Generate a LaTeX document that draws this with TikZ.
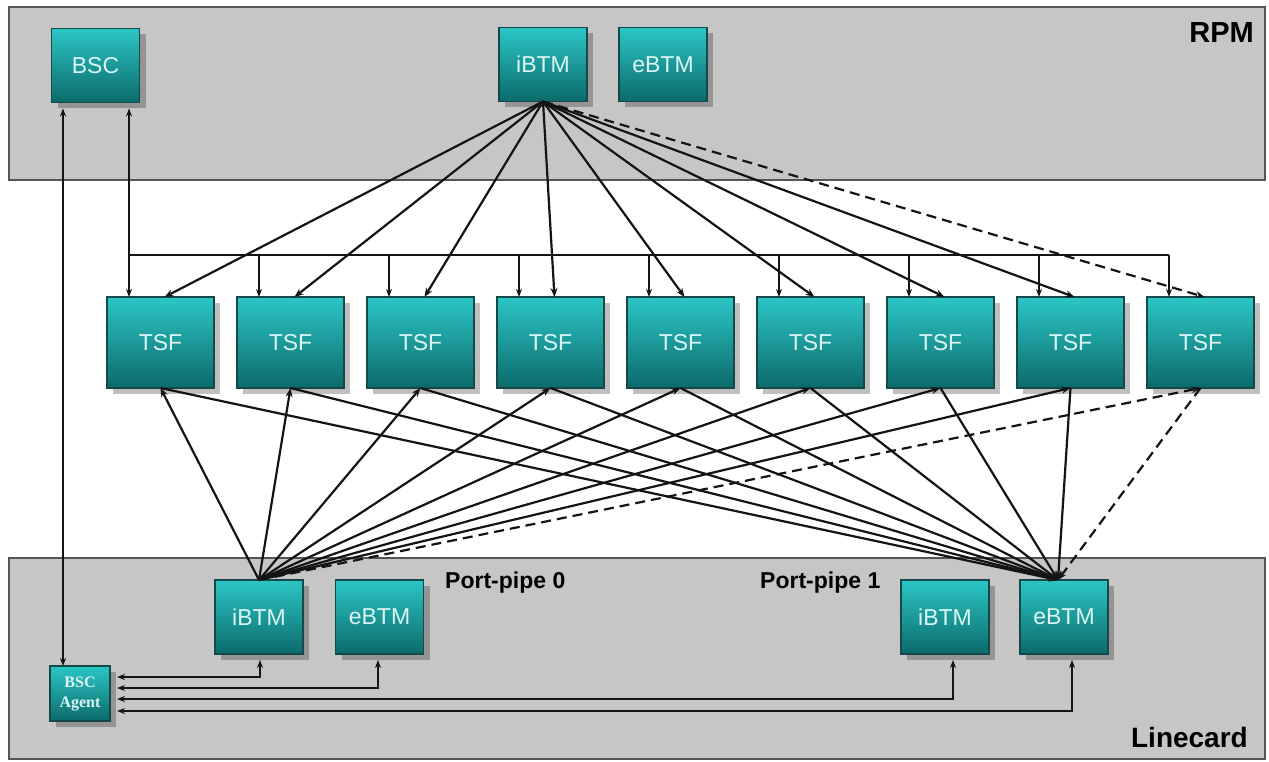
\documentclass[tikz,border=0pt]{standalone}
\usepackage{fontspec}
\setmainfont{Liberation Sans}
\newfontfamily\agentfont{Liberation Serif}
\usetikzlibrary{shadows,arrows.meta,calc}
\definecolor{tealtop}{HTML}{2CC6C6}
\definecolor{tealbot}{HTML}{0C6A6A}
\definecolor{tealedge}{HTML}{154848}
\definecolor{panelfill}{HTML}{C6C6C6}
\definecolor{paneledge}{HTML}{555555}
\definecolor{boxtext}{HTML}{DAF6F6}
\definecolor{lineclr}{HTML}{141414}
\begin{document}
\begin{tikzpicture}[x=1pt,y=-1pt,
  unit/.style={draw=tealedge, line width=1.8pt, top color=tealtop, bottom color=tealbot,
    text=boxtext, font=\fontsize{23}{26}\selectfont, inner sep=0pt, outer sep=0pt,
    minimum width=88pt, minimum height=74pt,
    drop shadow={shadow xshift=6pt, shadow yshift=-6pt, opacity=0.25, fill=black}},
  tsfbox/.style={unit, minimum width=107pt, minimum height=91pt},
  agentbox/.style={unit, minimum width=60pt, minimum height=55pt, align=center,
    font=\agentfont\bfseries\fontsize{16}{20}\selectfont},
  panel/.style={draw=paneledge, line width=1.8pt, fill=panelfill},
  fan/.style={draw=lineclr, line width=2.2pt, -{Stealth[length=9pt,width=7pt]}},
  dsh/.style={dash pattern=on 10pt off 6pt},
  thinboth/.style={draw=lineclr, line width=1.5pt, {Stealth[length=8pt,width=6pt]}-{Stealth[length=8pt,width=6pt]}},
  thinarr/.style={draw=lineclr, line width=1.5pt, -{Stealth[length=8pt,width=6pt]}},
  thinline/.style={draw=lineclr, line width=1.5pt},
  lbl/.style={font=\bfseries\fontsize{23}{26}\selectfont, text=black, inner sep=0pt}
]
\useasboundingbox[fill=white] (0,0) rectangle (1269,762);

% panels
\draw[panel] (9,7) rectangle (1265,180);
\draw[panel] (9,558) rectangle (1265,759);

% labels
\node[lbl, font=\bfseries\fontsize{29}{32}\selectfont, anchor=base east] (rpm) at (1254,43) {RPM};
\node[lbl, font=\bfseries\fontsize{28}{30}\selectfont, anchor=base east] (lc) at (1248,747) {Linecard};
\node[lbl, anchor=base west] (pp0) at (445,588) {Port-pipe 0};
\node[lbl, anchor=base west] (pp1) at (760,588) {Port-pipe 1};

% RPM units
\node[unit] (bsc) at (95.5,65.5) {BSC};
\node[unit] (ibtm) at (543,64.5) {iBTM};
\node[unit] (ebtm) at (663,64.5) {eBTM};

% TSFs
\foreach \i in {1,...,9} {
  \node[tsfbox] (tsf\i) at ({160.5+130*(\i-1)},342.5) {TSF};
}

% Linecard units
\node[unit] (libtm) at (259,617) {iBTM};
\node[unit] (lebtm) at (379.5,617) {eBTM};
\node[unit] (ribtm) at (945,617) {iBTM};
\node[unit] (rebtm) at (1064,617) {eBTM};
\node[agentbox] (agent) at (80,693.5) {BSC\\Agent};

% top fan
\foreach \i in {1,...,8} {
  \draw[fan] (ibtm.south) -- ([xshift=4pt]tsf\i.north);
}
\draw[fan,dsh] (ibtm.south) -- ([xshift=4pt]tsf9.north);

% bottom fans
\coordinate (ein) at ([xshift=-6pt]rebtm.north);
\foreach \i in {1,...,8} {
  \draw[fan] (libtm.north) -- (tsf\i.south);
  \draw[fan] (tsf\i.south) -- (ein);
}
\draw[fan,dsh] (libtm.north) -- (tsf9.south);
\draw[fan,dsh] (tsf9.south) -- (ein);

% BSC bus
\coordinate (busy) at (0,255);
\coordinate (bscL) at ([xshift=-32.5pt]bsc.south);
\coordinate (bscR) at ([xshift=33.5pt]bsc.south);
\foreach \i in {1,...,9} {
  \coordinate (d\i) at ([xshift=-31.5pt]tsf\i.north);
}
\draw[thinline, {Stealth[length=8pt,width=6pt]}-, shorten <=6pt] (bscR) -- (bscR |- busy) -- (d9 |- busy);
\foreach \i in {1,...,9} {
  \draw[thinarr] (d\i |- busy) -- (d\i);
}
\draw[thinboth, shorten <=6pt] (bscL) -- (bscL |- agent.north);

% BSC Agent links
\coordinate (ae) at ([xshift=7pt]agent.east);
\coordinate (y1) at (0,677);
\coordinate (y2) at (0,688);
\coordinate (y3) at (0,699);
\coordinate (y4) at (0,711);
\coordinate (t1) at ([xshift=1pt]libtm.south);
\coordinate (t2) at ([xshift=-1.5pt]lebtm.south);
\coordinate (t3) at ([xshift=8pt]ribtm.south);
\coordinate (t4) at ([xshift=8pt]rebtm.south);
\draw[thinboth, shorten >=6pt] (ae |- y1) -- (t1 |- y1) -- (t1);
\draw[thinboth, shorten >=6pt] (ae |- y2) -- (t2 |- y2) -- (t2);
\draw[thinboth, shorten >=6pt] (ae |- y3) -- (t3 |- y3) -- (t3);
\draw[thinboth, shorten >=6pt] (ae |- y4) -- (t4 |- y4) -- (t4);
\end{tikzpicture}
\end{document}
